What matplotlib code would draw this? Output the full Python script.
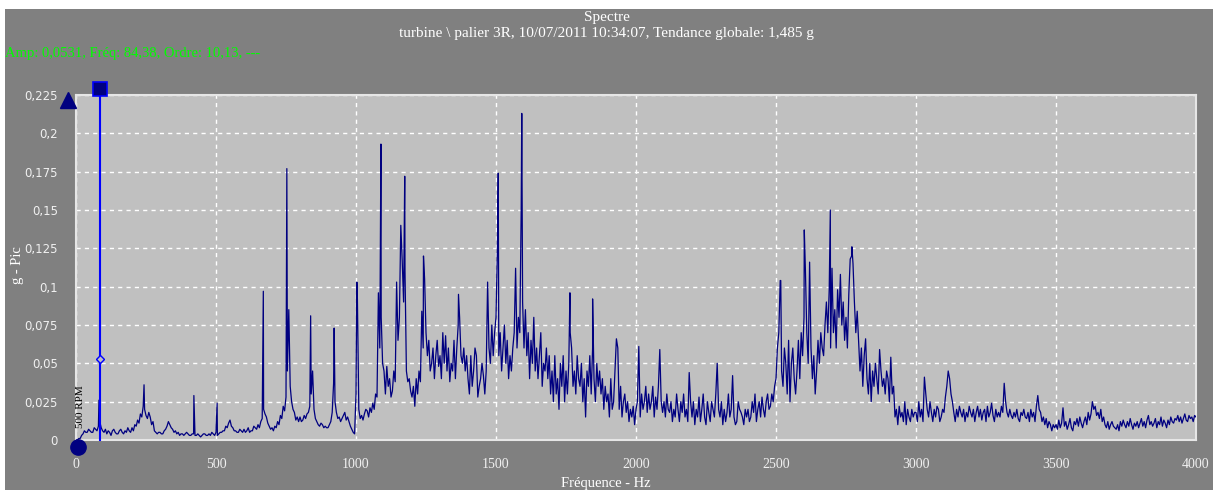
import numpy as np
import matplotlib
matplotlib.use("Agg")
import matplotlib.pyplot as plt
from matplotlib.ticker import FuncFormatter

# --- data (amplitudes in milli-g) ---
# background spectrum, one value every 5 Hz from 0 to 4000 Hz (one row = 100 Hz)
base_start_hz = 0
base_step_hz = 5
base_mg = [
    0, 0, 1, 1, 3, 4, 6, 5, 5, 7, 6, 5, 5, 8, 7, 6, 9, 12, 8, 6,
    5, 7, 4, 6, 5, 3, 6, 7, 5, 4, 4, 6, 7, 5, 4, 6, 5, 8, 6, 5,
    8, 6, 10, 9, 13, 11, 17, 15, 22, 20, 16, 14, 18, 15, 10, 12, 6, 5, 4, 5,
    5, 4, 4, 6, 7, 9, 12, 10, 8, 7, 5, 6, 4, 5, 3, 4, 4, 3, 4, 5,
    4, 3, 3, 4, 4, 3, 3, 4, 3, 2, 3, 4, 4, 3, 3, 4, 3, 5, 4, 3,
    5, 3, 4, 5, 5, 6, 6, 9, 8, 11, 13, 9, 8, 6, 6, 5, 5, 7, 6, 5,
    7, 5, 6, 8, 5, 6, 6, 9, 8, 7, 10, 8, 12, 14, 20, 17, 15, 11, 9, 7,
    8, 6, 9, 8, 12, 10, 16, 14, 22, 19, 28, 45, 85, 35, 25, 20, 18, 13, 15, 12,
    15, 12, 13, 16, 14, 17, 18, 22, 30, 45, 20, 14, 12, 10, 9, 11, 10, 8, 9, 8,
    8, 10, 12, 18, 37, 25, 18, 14, 15, 12, 14, 16, 18, 13, 15, 12, 9, 7, 5, 4,
    30, 92, 20, 14, 16, 13, 17, 20, 19, 15, 21, 18, 24, 20, 30, 28, 96, 60, 80, 50,
    45, 30, 48, 35, 40, 28, 32, 45, 38, 103, 65, 80, 140, 117, 90, 110, 45, 38, 40, 32,
    28, 35, 22, 40, 30, 45, 38, 84, 60, 105, 70, 55, 65, 45, 50, 60, 40, 55, 65, 48,
    55, 40, 70, 50, 68, 45, 60, 38, 50, 45, 65, 40, 60, 75, 80, 55, 50, 60, 45, 55,
    40, 30, 55, 35, 45, 60, 55, 28, 35, 40, 50, 42, 30, 45, 103, 60, 50, 75, 55, 70,
    80, 125, 55, 70, 45, 60, 75, 50, 65, 40, 55, 45, 60, 70, 112, 60, 80, 70, 151, 90,
    60, 85, 55, 70, 40, 65, 50, 80, 45, 60, 40, 55, 70, 35, 50, 45, 60, 40, 55, 30,
    45, 25, 55, 30, 40, 20, 50, 35, 55, 25, 45, 30, 50, 70, 60, 35, 45, 30, 55, 40,
    35, 50, 25, 40, 15, 45, 35, 55, 30, 60, 40, 25, 50, 35, 45, 30, 40, 20, 35, 25,
    30, 15, 40, 20, 25, 45, 66, 60, 20, 35, 15, 25, 30, 18, 25, 12, 20, 15, 22, 10,
    20, 25, 61, 15, 30, 20, 25, 35, 18, 30, 20, 25, 35, 15, 28, 20, 35, 59, 25, 18,
    25, 15, 30, 20, 18, 25, 12, 20, 15, 30, 20, 12, 25, 18, 30, 15, 20, 12, 44, 25,
    15, 25, 10, 20, 15, 28, 12, 20, 30, 15, 10, 25, 18, 12, 25, 20, 15, 30, 50, 20,
    15, 25, 10, 20, 12, 18, 30, 15, 20, 42, 15, 10, 12, 25, 20, 18, 15, 10, 20, 15,
    20, 12, 15, 25, 18, 30, 12, 20, 25, 15, 28, 20, 15, 25, 30, 20, 22, 30, 25, 35,
    40, 60, 70, 104, 45, 35, 60, 50, 30, 65, 25, 50, 60, 40, 30, 45, 65, 40, 70, 55,
    80, 111, 70, 50, 116, 60, 40, 55, 30, 45, 65, 50, 70, 60, 55, 75, 90, 70, 98, 60,
    112, 70, 85, 60, 98, 80, 108, 75, 90, 65, 80, 60, 95, 118, 120, 115, 90, 70, 84, 65,
    45, 60, 35, 55, 66, 40, 30, 50, 25, 45, 35, 50, 40, 30, 59, 45, 35, 40, 30, 45,
    40, 25, 54, 30, 35, 15, 20, 10, 22, 15, 18, 12, 25, 10, 20, 15, 12, 20, 15, 18,
    18, 12, 25, 15, 20, 12, 41, 30, 20, 15, 25, 18, 12, 20, 15, 22, 20, 12, 15, 20,
    18, 28, 35, 45, 40, 30, 25, 18, 12, 20, 15, 22, 18, 15, 20, 12, 18, 15, 22, 18,
    15, 20, 12, 18, 22, 15, 20, 13, 18, 20, 12, 22, 15, 18, 24, 16, 12, 20, 15, 18,
    15, 22, 18, 37, 25, 18, 15, 20, 16, 14, 18, 15, 20, 14, 12, 18, 16, 20, 15, 14,
    18, 12, 20, 15, 18, 12, 22, 29, 20, 18, 12, 15, 10, 14, 8, 12, 10, 6, 10, 8,
    10, 7, 13, 8, 11, 21, 9, 12, 7, 10, 14, 8, 6, 12, 10, 14, 9, 15, 11, 8,
    12, 15, 10, 18, 13, 17, 25, 20, 22, 16, 18, 14, 20, 12, 15, 10, 8, 12, 7, 10,
    12, 9, 8, 7, 10, 6, 12, 9, 13, 10, 8, 12, 9, 14, 10, 7, 11, 9, 12, 8,
    11, 14, 9, 12, 8, 13, 16, 10, 12, 9, 11, 14, 8, 12, 10, 15, 9, 13, 11, 8,
    13, 10, 15, 12, 11, 14, 13, 16, 12, 15, 11, 14, 17, 13, 12, 16, 14, 15, 12, 16,
    15,
]

# narrow spectral lines sitting on top of the background
peak_hz = [82, 243, 421, 504, 669, 753, 838, 922, 1003, 1089, 1174,
           1241, 1366, 1508, 1592, 1764, 1845, 2517, 2601, 2694, 2771]
peak_mg = [26, 36, 29, 24, 97, 177, 81, 73, 103, 193, 172,
           120, 95, 174, 213, 96, 92, 104, 137, 150, 126]

cursor_hz = 84.38
cursor_amp = 0.0531
rpm_hz = 8.33

title = "Spectre"
subtitle = "turbine \\ palier 3R, 10/07/2011 10:34:07, Tendance globale: 1,485 g"
cursor_text = "Amp: 0,0531, Fréq: 84,38, Ordre: 10,13, ---"
x_label = "Fréquence - Hz"
y_label = "g - Pic"
x_ticks = [0, 500, 1000, 1500, 2000, 2500, 3000, 3500, 4000]
y_ticks = [0, 0.025, 0.05, 0.075, 0.1, 0.125, 0.15, 0.175, 0.2, 0.225]

# --- merge background and lines into one trace ---
base_hz = base_start_hz + base_step_hz * np.arange(len(base_mg))
freq = np.concatenate([base_hz, peak_hz])
amp = np.concatenate([base_mg, peak_mg]) / 1000.0
order = np.argsort(freq, kind="stable")
freq, amp = freq[order], amp[order]

W, H = 1213, 490
fig = plt.figure(figsize=(W / 100, H / 100), dpi=100, facecolor="white")
# grey panel (white strip on top and left)
fig.patches.append(plt.Rectangle((5 / W, 0), 1, 1 - 9 / H, transform=fig.transFigure,
                                 facecolor="#808080", edgecolor="none", zorder=-10))

ax = fig.add_axes([76 / W, 1 - 440 / H, 1120 / W, 345 / H])
ax.set_facecolor("#c0c0c0")
ax.plot(freq, amp, color="#000080", lw=0.9, zorder=3)
ax.set_xlim(0, 4000)
ax.set_ylim(0, 0.225)

for s in ax.spines.values():
    s.set_color("#e6e6e6")
    s.set_linewidth(1.5)

ax.set_xticks(x_ticks)
ax.set_yticks(y_ticks)
ax.grid(True, color="white", linestyle=(0, (3, 3)), linewidth=1)
ax.tick_params(length=0, colors="#f0f0f0")
ax.tick_params(axis="x", pad=13)
ax.tick_params(axis="y", pad=13)
ax.yaxis.set_major_formatter(FuncFormatter(lambda v, p: f"{v:.3f}".rstrip("0").rstrip(".").replace(".", ",")))
for lab in ax.get_xticklabels():
    lab.set_family("Liberation Serif")
    lab.set_fontsize(10)
for lab in ax.get_yticklabels():
    lab.set_family("DejaVu Sans")
    lab.set_fontsize(8.5)

# cursor
top = 0.229
ax.plot([cursor_hz, cursor_hz], [0, top], color="#0000ff", lw=1.5, clip_on=False, zorder=4)
ax.plot([cursor_hz], [cursor_amp], marker="D", ms=4, mfc="#c0c0c0", mec="#0000ff", mew=1, zorder=5)
ax.plot([cursor_hz], [top], marker="s", ms=10, mfc="#000080", mec="#0000ff", mew=1.2,
        clip_on=False, zorder=6)
ax.plot([-28], [0.2215], marker="^", ms=11, color="#000080", clip_on=False, zorder=6)
ax.plot([8], [-0.0047], marker="o", ms=11, color="#000080", clip_on=False, zorder=6)
ax.text(rpm_hz + 6, 0.008, "500 RPM", rotation=90, ha="center", va="bottom",
        fontsize=8, family="Liberation Serif", color="black", zorder=5)

serif = "Liberation Serif"
fig.text(0.5, 1 - 17 / H, title, ha="center", va="center", color="white", fontsize=11, family=serif)
fig.text(0.5, 1 - 34 / H, subtitle, ha="center", va="center", color="white", fontsize=11, family=serif)
fig.text(5 / W, 1 - 53 / H, cursor_text, ha="left", va="center", color="#00ff00", fontsize=10.5, family=serif)
fig.text(606 / W, 1 - 483 / H, x_label, ha="center", va="center", color="white", fontsize=10.5, family=serif)
fig.text(17 / W, 1 - 265 / H, y_label, ha="center", va="center", rotation=90, color="white",
         fontsize=10.5, family=serif)

fig.savefig("out.png", dpi=100, facecolor=fig.get_facecolor())
